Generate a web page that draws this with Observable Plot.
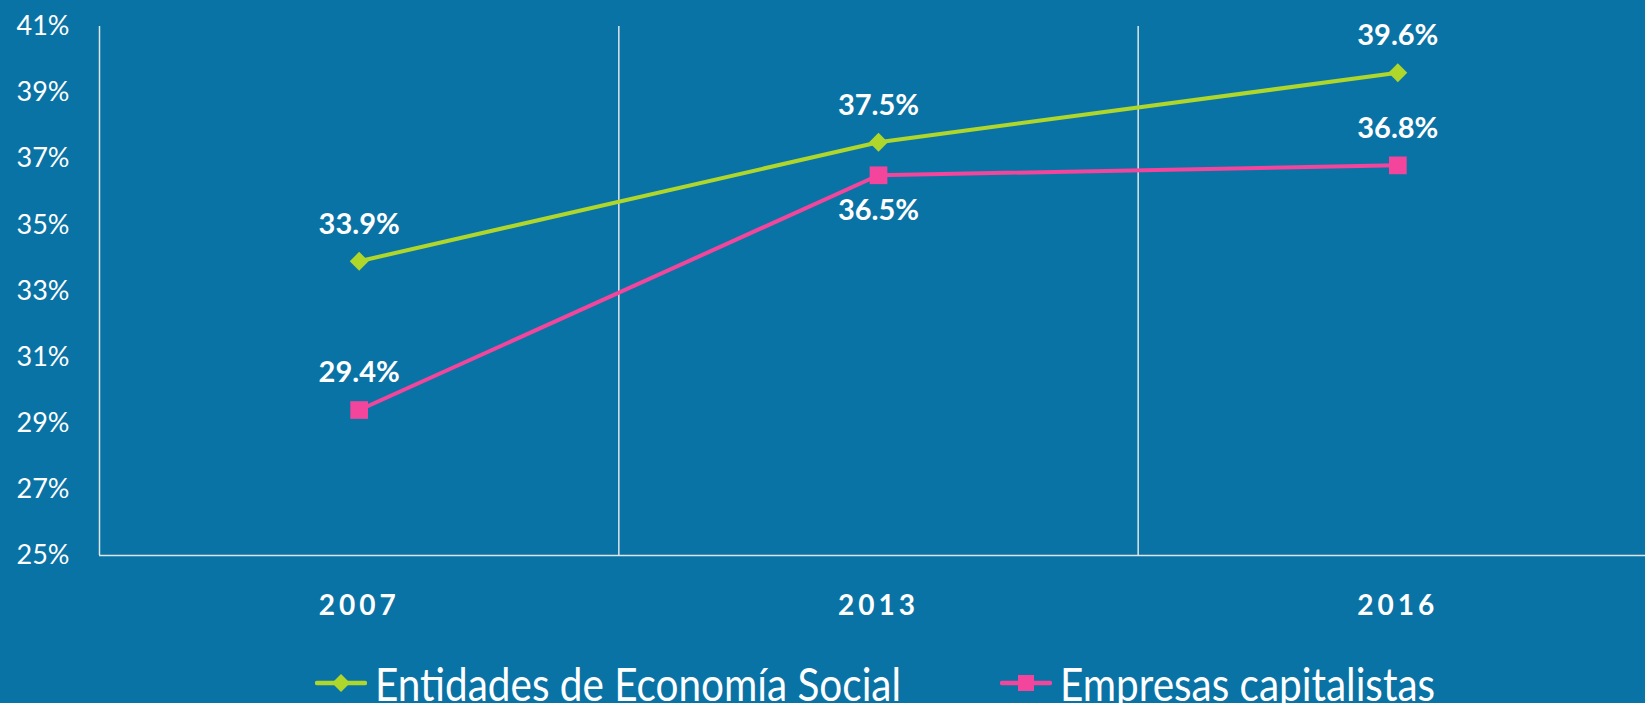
<!DOCTYPE html>
<html><head><meta charset="utf-8">
<script src="https://cdn.jsdelivr.net/npm/d3@7"></script>
<script src="https://cdn.jsdelivr.net/npm/@observablehq/plot@0.6"></script>
<style>
html,body{margin:0;padding:0;background:#0a73a5;overflow:hidden;width:1645px;height:703px;}
#chart svg{display:block;overflow:visible;}
#chart [aria-label="x-axis tick label"] text{letter-spacing:4px;}
#legend{position:relative;height:63px;font-family:Lato,"Open Sans",sans-serif;color:#fff;}
#legend .item{position:absolute;top:13px;height:60px;display:flex;align-items:center;font-size:46px;white-space:nowrap;}
#legend .item span{display:inline-block;transform:scaleX(0.88);transform-origin:left center;}
#legend svg{display:block;margin-right:8px;}
</style></head><body>
<div id="chart"></div>
<div id="legend"></div>
<script>
const years = ["2007", "2013", "2016"];
const seriesNames = ["Entidades de Economía Social", "Empresas capitalistas"];
const socialValues = [33.9, 37.5, 39.6];
const capitalValues = [29.4, 36.5, 36.8];
const yTickValues = [25, 27, 29, 31, 33, 35, 37, 39, 41];
const seriesColors = ["#aed62b", "#f2459b"];
const seriesSymbols = ["diamond2", "square"];

const rows = [];
years.forEach((yr, i) => {
  rows.push({i, year: yr, series: seriesNames[0], value: socialValues[i]});
  rows.push({i, year: yr, series: seriesNames[1], value: capitalValues[i]});
});
const isBelow = d => d.series === seriesNames[1] && d.year === "2013";
const gridColor = "#dfe6ea";

const chart = Plot.plot({
  width: 1645, height: 640,
  marginLeft: 99, marginRight: 0, marginTop: 26, marginBottom: 85,
  x: {type: "linear", domain: [-0.5, 2.5], range: [99, 1657], label: null},
  y: {domain: [25, 41], range: [555, 26], label: null},
  color: {domain: seriesNames, range: seriesColors},
  symbol: {domain: seriesNames, range: seriesSymbols},
  style: {background: "transparent", color: "#fff", fontFamily: "Lato, 'Open Sans', sans-serif", overflow: "visible"},
  marks: [
    Plot.ruleX([0.5, 1.5], {y1: () => 25, y2: () => 41, stroke: gridColor, strokeWidth: 1.5}),
    Plot.ruleX([-0.5], {y1: () => 25, y2: () => 41, stroke: gridColor, strokeWidth: 1.5}),
    Plot.ruleY([25], {stroke: gridColor, strokeWidth: 1.5}),
    Plot.axisY(yTickValues, {anchor: "left", tickSize: 0, tickPadding: 30, tickFormat: d => d + "%", fontSize: 27, label: null}),
    Plot.axisX([0, 1, 2], {anchor: "bottom", tickSize: 0, tickPadding: 40, tickFormat: i => years[i], fontSize: 28, fontWeight: "bold", label: null}),
    Plot.line(rows, {x: "i", y: "value", z: "series", stroke: "series", strokeWidth: 4}),
    Plot.dot(rows.filter(d => d.series === seriesNames[0]), {x: "i", y: "value", symbol: "series", fill: "series", r: 8.5}),
    Plot.dot(rows.filter(d => d.series === seriesNames[1]), {x: "i", y: "value", symbol: "series", fill: "series", r: 10}),
    Plot.text(rows.filter(d => !isBelow(d)), {x: "i", y: "value", text: d => d.value.toFixed(1) + "%", dy: -37, fill: "#fff", fontSize: 29, fontWeight: "bold"}),
    Plot.text(rows.filter(isBelow), {x: "i", y: "value", text: d => d.value.toFixed(1) + "%", dy: 35, fill: "#fff", fontSize: 29, fontWeight: "bold"})
  ]
});
document.getElementById("chart").appendChild(chart);

// legend
const legend = document.getElementById("legend");
const legendLeft = [315, 1000];
seriesNames.forEach((name, k) => {
  const item = document.createElement("div");
  item.className = "item";
  item.style.left = legendLeft[k] + "px";
  const marker = k === 0
    ? `<polygon points="26,3 35,12 26,21 17,12" fill="${seriesColors[k]}"/>`
    : `<rect x="18" y="4" width="16" height="16" fill="${seriesColors[k]}"/>`;
  item.innerHTML = `<svg width="52" height="24"><line x1="2" x2="50" y1="12" y2="12" stroke="${seriesColors[k]}" stroke-width="4.5" stroke-linecap="round"/>${marker}</svg><span>${name}</span>`;
  legend.appendChild(item);
});
</script>
</body></html>
